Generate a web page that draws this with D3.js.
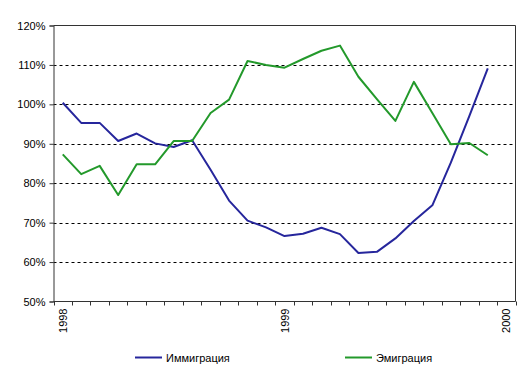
<!DOCTYPE html>
<html>
<head>
<meta charset="utf-8">
<script src="https://cdn.jsdelivr.net/npm/d3@7"></script>
<style>
  html, body { margin: 0; padding: 0; background: #fff; }
  svg { display: block; font-family: Arial, "Liberation Sans", sans-serif; }
</style>
</head>
<body>
<svg id="chart" width="530" height="378"></svg>
<script>
// ---- data ----
const categories = [
  "1998-01","1998-02","1998-03","1998-04","1998-05","1998-06","1998-07","1998-08",
  "1998-09","1998-10","1998-11","1998-12","1999-01","1999-02","1999-03","1999-04",
  "1999-05","1999-06","1999-07","1999-08","1999-09","1999-10","1999-11","1999-12",
  "2000-01"
];
const tickLabels = { "1998-01": "1998", "1999-01": "1999", "2000-01": "2000" };
const yTicks = [50, 60, 70, 80, 90, 100, 110, 120];
const immigration = [100.4, 95.3, 95.3, 90.7, 92.6, 90.1, 89.2, 90.9, 83.4, 75.6, 70.5, 68.8,
                     66.6, 67.2, 68.7, 67.1, 62.3, 62.6, 66.0, 70.4, 74.4, 85.2, 97.0, 109.1];
const emigration  = [87.3, 82.3, 84.4, 77.0, 84.8, 84.8, 90.7, 90.7, 97.8, 101.2, 111.0, 110.0,
                     109.3, 111.5, 113.6, 114.9, 107.0, 101.3, 95.8, 105.7, 97.8, 89.9, 90.2, 87.1];
const seriesNames = ["Иммиграция", "Эмиграция"];
const seriesColors = ["#26269c", "#23992b"];

// ---- layout ----
const svg = d3.select("#chart");
const L = 53.5, R = 515.5, T = 25.5, B = 301.5;

const x = d3.scaleBand().domain(categories).range([L, R]).paddingInner(0).paddingOuter(0);
const y = d3.scaleLinear().domain([50, 120]).range([B, T]);

// gridlines
svg.append("g").selectAll("line")
  .data(yTicks.filter(v => v > 50 && v < 120))
  .join("line")
  .attr("x1", L).attr("x2", R)
  .attr("y1", d => Math.round(y(d)) + 0.5).attr("y2", d => Math.round(y(d)) + 0.5)
  .attr("stroke", "#000").attr("stroke-width", 1)
  .attr("stroke-dasharray", "3,3");

// plot frame (top and right)
svg.append("path")
  .attr("d", `M${L},${T}H${R}V${B}`)
  .attr("fill", "none").attr("stroke", "#333").attr("stroke-width", 1);

// y axis
const yAxis = d3.axisLeft(y).tickValues(yTicks).tickSize(4).tickPadding(4)
  .tickFormat(d => d + "%");
const gy = svg.append("g").attr("transform", `translate(${L},0)`).call(yAxis);
gy.select(".domain").attr("stroke", "#333");
gy.selectAll(".tick line").attr("stroke", "#333");
gy.selectAll(".tick text").attr("font-size", 11).attr("fill", "#000")
  .attr("font-family", "Arial, 'Liberation Sans', sans-serif");

// x axis: ticks at category boundaries
const gx = svg.append("g");
gx.append("line").attr("x1", L).attr("x2", R).attr("y1", B).attr("y2", B).attr("stroke", "#333");
const bounds = categories.map(c => x(c)).concat([x(categories[categories.length - 1]) + x.bandwidth()]);
gx.selectAll("line.tk").data(bounds).join("line").attr("class", "tk")
  .attr("x1", d => Math.round(d) + 0.5).attr("x2", d => Math.round(d) + 0.5)
  .attr("y1", B).attr("y2", B + 4).attr("stroke", "#333");
gx.selectAll("text").data(categories.filter(c => tickLabels[c]))
  .join("text")
  .attr("transform", c => `translate(${x(c) + x.bandwidth() / 2 + 4},${B + 7}) rotate(-90)`)
  .attr("text-anchor", "end")
  .attr("font-size", 11).attr("fill", "#000")
  .text(c => tickLabels[c]);

// lines
const line = d3.line()
  .x((d, i) => x(categories[i]) + x.bandwidth() / 2)
  .y(d => y(d));
[immigration, emigration].forEach((s, k) => {
  svg.append("path").datum(s)
    .attr("d", line)
    .attr("fill", "none")
    .attr("stroke", seriesColors[k])
    .attr("stroke-width", 2)
    .attr("stroke-linejoin", "round");
});

// legend
const legendX = [135, 345];
seriesNames.forEach((name, k) => {
  const g = svg.append("g").attr("transform", `translate(${legendX[k]},357.5)`);
  g.append("line").attr("x1", 0).attr("x2", 27).attr("y1", 0).attr("y2", 0)
    .attr("stroke", seriesColors[k]).attr("stroke-width", 2);
  g.append("text").attr("x", 31).attr("y", 4).attr("font-size", 11).attr("fill", "#000")
    .text(name);
});
</script>
</body>
</html>
